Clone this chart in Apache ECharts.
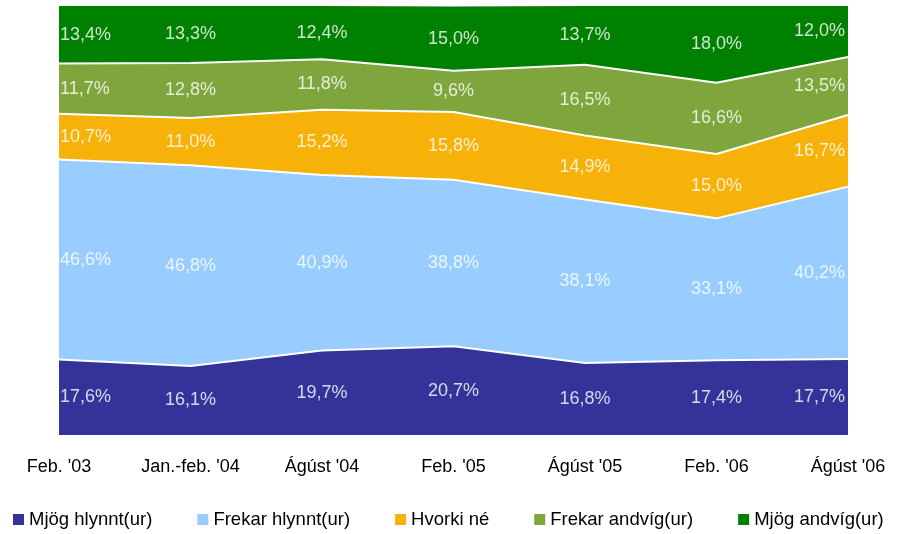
<!DOCTYPE html>
<html><head><meta charset="utf-8">
<script src="https://cdn.jsdelivr.net/npm/echarts@6/dist/echarts.min.js"></script>
<style>html,body{margin:0;padding:0;background:#fff}#c{width:903px;height:534px}</style>
</head><body><div id="c"></div>
<script>
const categories = ["Feb. '03", "Jan.-feb. '04", "Ágúst '04", "Feb. '05", "Ágúst '05", "Feb. '06", "Ágúst '06"];
const seriesNames = ["Mjög hlynnt(ur)", "Frekar hlynnt(ur)", "Hvorki né", "Frekar andvíg(ur)", "Mjög andvíg(ur)"];
const mjogHlynnt = [17.6, 16.1, 19.7, 20.7, 16.8, 17.4, 17.7];
const frekarHlynnt = [46.6, 46.8, 40.9, 38.8, 38.1, 33.1, 40.2];
const hvorkiNe = [10.7, 11.0, 15.2, 15.8, 14.9, 15.0, 16.7];
const frekarAndvig = [11.7, 12.8, 11.8, 9.6, 16.5, 16.6, 13.5];
const mjogAndvig = [13.4, 13.3, 12.4, 15.0, 13.7, 18.0, 12.0];
const colors = ["#333399", "#99CCFF", "#F7B20A", "#7FA63C", "#008000"];
const values = [mjogHlynnt, frekarHlynnt, hvorkiNe, frekarAndvig, mjogAndvig];

const fmt = v => v.toFixed(1).replace('.', ',') + '%';
const font = "'Liberation Sans', Arial, sans-serif";

const series = [];
values.forEach((arr, si) => {
  series.push({
    name: seriesNames[si], type: 'line', stack: 'total', data: arr,
    symbol: 'none', smooth: false,
    lineStyle: { color: '#ffffff', width: si === 4 ? 0 : 2 },
    areaStyle: { color: colors[si], opacity: 1 },
    itemStyle: { color: colors[si] },
    z: 2
  });
});
// labels at middle of each band
const labelData = [];
values.forEach((arr, si) => {
  arr.forEach((v, i) => {
    let below = 0;
    for (let k = 0; k < si; k++) below += values[k][i];
    const n = categories.length;
    labelData.push({
      value: [i, below + v / 2, v],
      label: { align: i === 0 ? 'left' : (i === n - 1 ? 'right' : 'center'), offset: [i === 0 ? 1 : (i === n - 1 ? -3 : 0), 0] }
    });
  });
});
series.push({
  type: 'scatter', data: labelData, symbolSize: 0, silent: true, z: 5,
  label: { show: true, position: 'inside', color: '#ffffff', fontSize: 18, fontFamily: font,
    formatter: p => fmt(p.value[2]) }
});

const chart = echarts.init(document.getElementById('c'));
chart.setOption({
  animation: false,
  title: { text: 'Heild', left: 8, top: -21, textStyle: { fontSize: 20, fontWeight: 'bold', color: '#000', fontFamily: font } },
  grid: { left: 59, right: 55, top: 6, bottom: 99, containLabel: false },
  legend: {
    data: seriesNames, bottom: 0, left: 8, icon: 'rect', itemWidth: 11, itemHeight: 11, itemGap: 45,
    textStyle: { fontSize: 18.5, color: '#000', fontFamily: font }
  },
  xAxis: {
    type: 'category', data: categories, boundaryGap: false,
    axisLine: { show: false }, axisTick: { show: false },
    axisLabel: { fontSize: 18, color: '#000', fontFamily: font, margin: 23, interval: 0 }
  },
  yAxis: { type: 'value', min: 0, max: 100, show: false, splitLine: { show: false } },
  series
});
</script></body></html>
